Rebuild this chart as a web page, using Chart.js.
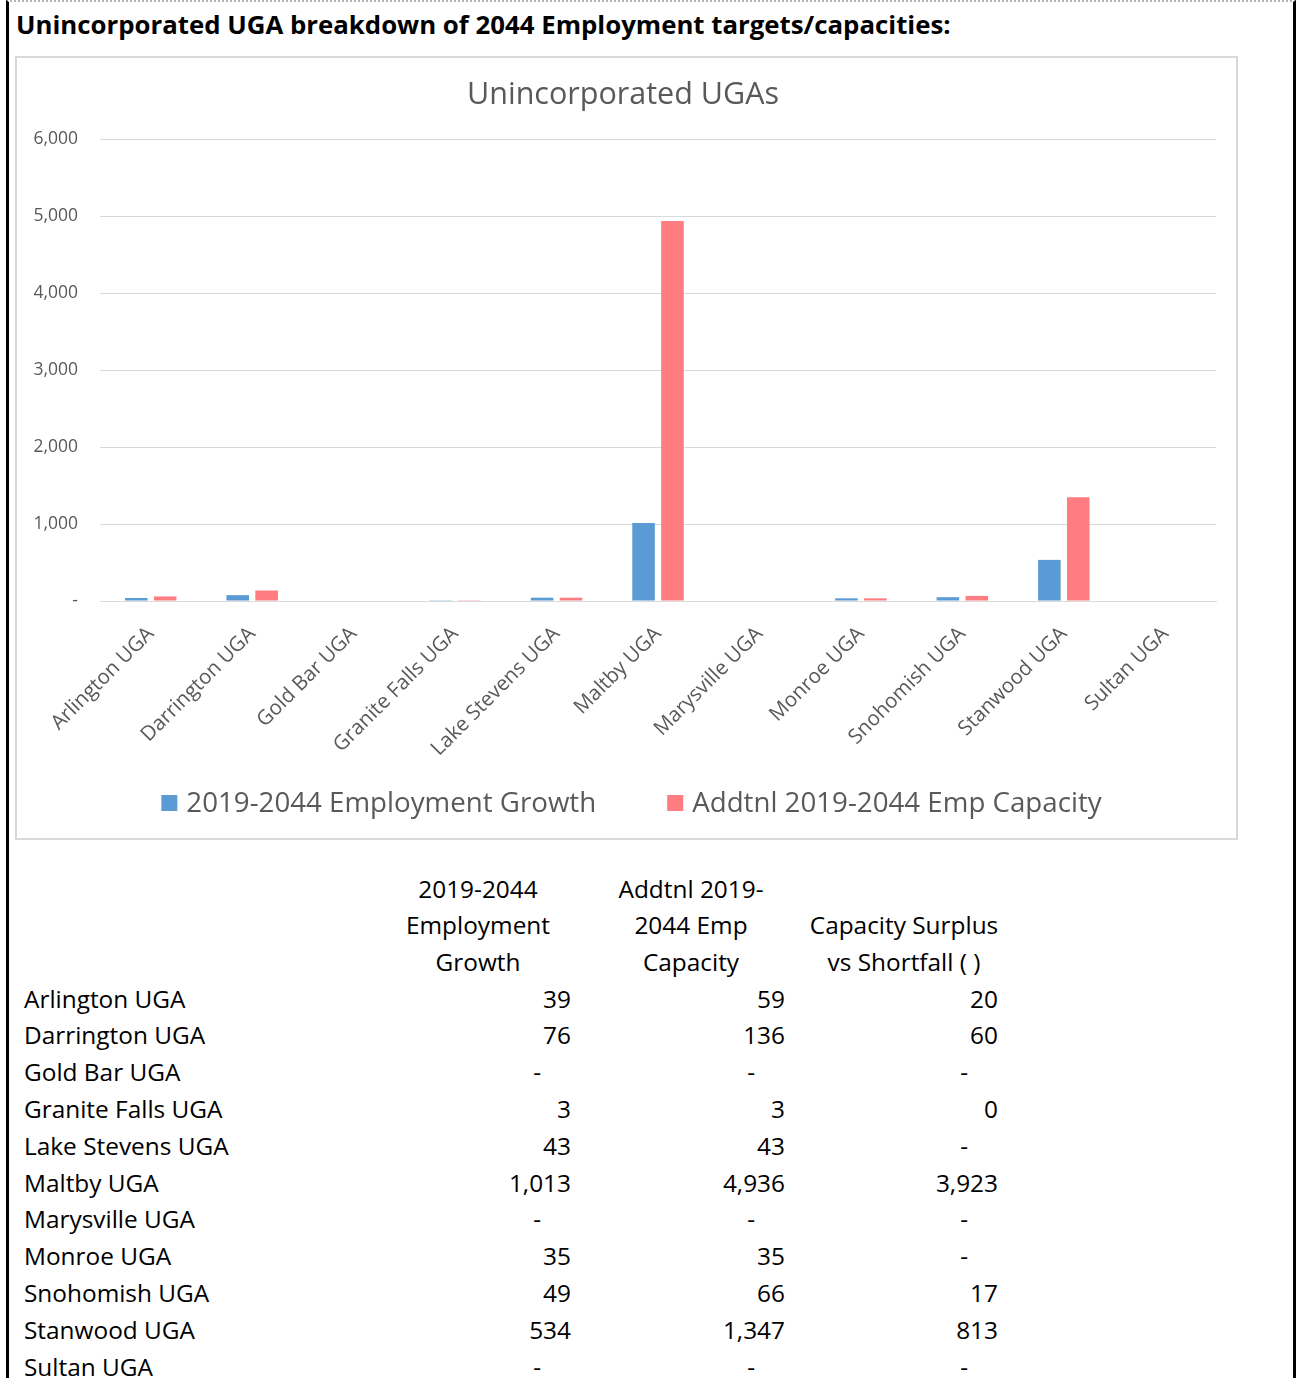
<!DOCTYPE html>
<html>
<head>
<meta charset="utf-8">
<title>Unincorporated UGAs</title>
<script src="https://cdn.jsdelivr.net/npm/chart.js@4.4.1/dist/chart.umd.min.js"></script>
<style>
  html, body { margin: 0; padding: 0; background: #fff; }
  body { width: 1296px; height: 1378px; position: relative; overflow: hidden; font-family: "Open Sans", sans-serif; }
  .page { position: absolute; left: 6px; top: 0; width: 1290px; height: 1378px; box-sizing: border-box;
          border-left: 3px solid #000; border-right: 3px solid #000; border-top: 2px dotted #b4b4b4; }
  h1 { position: absolute; left: 16px; top: 6px; margin: 0; font-size: 25.8px; font-weight: 700; color: #000; line-height: 36px; white-space: nowrap; }
  .chart-box { position: absolute; left: 15px; top: 56px; width: 1223px; height: 784px; box-sizing: border-box; border: 2px solid #d9d9d9; }
  .chart-wrap { position: relative; width: 1219px; height: 780px; }
  .cell { position: absolute; font-size: 24.4px; line-height: 37px; color: #000; white-space: nowrap; }
  .num { text-align: right; width: 180px; box-sizing: border-box; }
  .head { text-align: center; width: 240px; }
</style>
</head>
<body>
<div class="page"></div>
<h1>Unincorporated UGA breakdown of 2044 Employment targets/capacities:</h1>
<div class="chart-box"><div class="chart-wrap"><canvas id="ugaChart"></canvas></div></div>
<div id="ugaTable"></div>

<script>
// Categorias e valores
const ugaNames = ['Arlington UGA', 'Darrington UGA', 'Gold Bar UGA', 'Granite Falls UGA', 'Lake Stevens UGA',
  'Maltby UGA', 'Marysville UGA', 'Monroe UGA', 'Snohomish UGA', 'Stanwood UGA', 'Sultan UGA'];
const empGrowth   = [39, 76, null, 3, 43, 1013, null, 35, 49, 534, null];
const empCapacity = [59, 136, null, 3, 43, 4936, null, 35, 66, 1347, null];
const surplus     = [20, 60, null, 0, null, 3923, null, null, 17, 813, null];

const seriesNames = ['2019-2044 Employment Growth', 'Addtnl 2019-2044 Emp Capacity'];
const seriesColors = ['#5B9BD5', '#FF7C80'];
const yTicks = [0, 1000, 2000, 3000, 4000, 5000, 6000];

const FONT = '"Open Sans", sans-serif';
const GRAY = '#595959';

// Formato contábil: zero ou vazio vira "-"
function fmtAcct(v) {
  if (v === null || v === 0) return '-';
  return v.toLocaleString('en-US');
}

// Legenda desenhada no rodapé do canvas (espaçamento largo entre itens)
const bottomLegend = {
  id: 'bottomLegend',
  afterDraw(chart) {
    const c = chart.ctx;
    c.save();
    c.font = '27.7px ' + FONT;
    c.textBaseline = 'middle';
    c.textAlign = 'left';
    const box = 16, gap = 9, spacing = 71;
    const items = chart.data.datasets.map(ds => ({
      text: ds.label, color: ds.backgroundColor, w: c.measureText(ds.label).width
    }));
    const total = items.reduce((s, it) => s + box + gap + it.w, 0) + spacing * (items.length - 1);
    let x = (chart.width - total) / 2 + 5;
    const y = chart.height - 35;
    items.forEach(it => {
      c.fillStyle = it.color;
      c.fillRect(x, y - box / 2, box, box);
      c.fillStyle = GRAY;
      c.fillText(it.text, x + box + gap, y + 1);
      x += box + gap + it.w + spacing;
    });
    c.restore();
  }
};

// Gráfico de barras
const ctx = document.getElementById('ugaChart').getContext('2d');
new Chart(ctx, {
  type: 'bar',
  data: {
    labels: ugaNames,
    datasets: [
      { label: seriesNames[0], data: empGrowth, backgroundColor: seriesColors[0] },
      { label: seriesNames[1], data: empCapacity, backgroundColor: seriesColors[1] }
    ]
  },
  plugins: [bottomLegend],
  options: {
    responsive: true,
    maintainAspectRatio: false,
    animation: false,
    datasets: { bar: { categoryPercentage: 0.57, barPercentage: 0.78 } },
    layout: { padding: { left: 13, right: 20, top: 0, bottom: 67 } },
    plugins: {
      title: {
        display: true,
        text: 'Unincorporated UGAs',
        color: GRAY,
        font: { family: FONT, size: 30.5, weight: 'normal' },
        padding: { top: 19, bottom: 25.4 }
      },
      legend: { display: false },
      tooltip: { enabled: false }
    },
    scales: {
      x: {
        grid: { display: false, drawTicks: false },
        border: { color: '#d9d9d9', width: 1 },
        ticks: {
          color: GRAY,
          font: { family: FONT, size: 20.5 },
          minRotation: 45,
          maxRotation: 45,
          autoSkip: false,
          padding: 21
        },
        afterFit: function(scale) { scale.height = 170; }
      },
      y: {
        min: yTicks[0],
        max: yTicks[yTicks.length - 1],
        afterBuildTicks: function(scale) { scale.ticks = yTicks.map(v => ({ value: v })); },
        grid: { color: '#d9d9d9', drawTicks: false },
        border: { display: false },
        ticks: {
          color: GRAY,
          font: { family: FONT, size: 17.5 },
          padding: 22,
          callback: function(value) { return fmtAcct(value); }
        },
        afterFit: function(scale) { scale.width = 70; }
      }
    }
  }
});

// Tabela de valores abaixo do gráfico
const table = document.getElementById('ugaTable');
const rowH = 36.8;
const headTop = 869.5;
const bodyTop = 979.5;
const colRight = [571, 785, 998];
const headCenter = [478, 691, 904];
const headLines = [
  ['2019-2044', 'Employment', 'Growth'],
  ['Addtnl 2019-', '2044 Emp', 'Capacity'],
  ['', 'Capacity Surplus', 'vs Shortfall ( )']
];
const columns = [empGrowth, empCapacity, surplus];

function addCell(text, cls, left, top) {
  const d = document.createElement('div');
  d.className = 'cell ' + cls;
  d.textContent = text;
  d.style.left = left + 'px';
  d.style.top = top + 'px';
  table.appendChild(d);
  return d;
}

headLines.forEach((lines, c) => {
  lines.forEach((t, i) => {
    if (t) addCell(t, 'head', headCenter[c] - 120, headTop + i * rowH);
  });
});

ugaNames.forEach((name, r) => {
  const top = bodyTop + r * rowH;
  addCell(name, '', 24, top);
  columns.forEach((col, c) => {
    // na coluna de saldo, 0 aparece como "0" (valor arredondado)
    const txt = (c === 2 && col[r] === 0) ? '0' : fmtAcct(col[r]);
    const d = addCell(txt, 'num', colRight[c] - 180, top);
    if (txt === '-') d.style.paddingRight = '30px';
  });
});
</script>
</body>
</html>
